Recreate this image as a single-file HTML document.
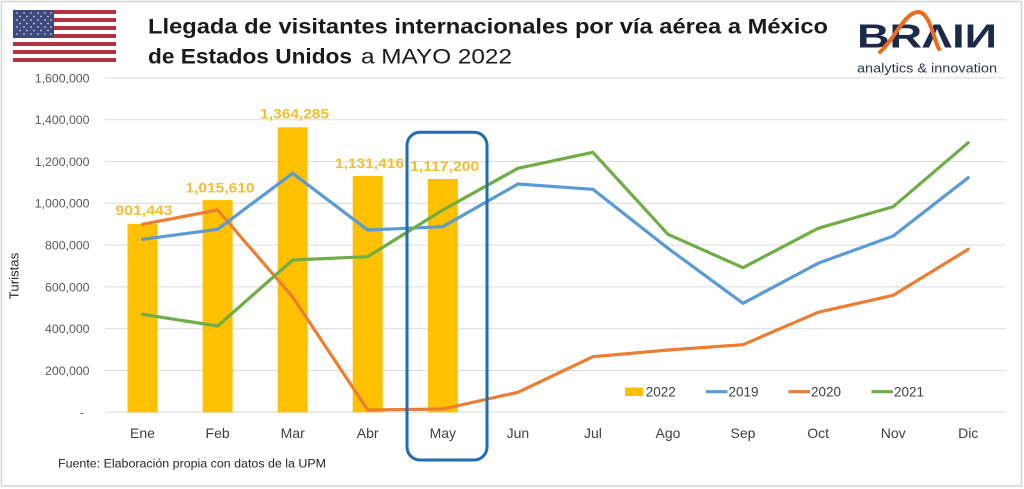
<!DOCTYPE html>
<html>
<head>
<meta charset="utf-8">
<style>
  html,body{margin:0;padding:0;background:#fff;}
  svg{display:block;}
  text{font-family:"Liberation Sans", Arial, sans-serif;}
</style>
</head>
<body>
<svg width="1024" height="489" viewBox="0 0 1024 489" xmlns="http://www.w3.org/2000/svg">
  <rect x="0" y="0" width="1024" height="489" fill="#ffffff"/>
  <!-- outer frame -->
  <rect x="1.5" y="1.5" width="1020" height="484.5" fill="none" stroke="#d6d6d6" stroke-width="1.5"/>

  <!-- flag -->
  <g>
    <rect x="13" y="10" width="103" height="52" fill="#ffffff"/>
    <g fill="#b3323f">
      <rect x="13" y="10" width="103" height="4"/>
      <rect x="13" y="18" width="103" height="4"/>
      <rect x="13" y="26" width="103" height="4"/>
      <rect x="13" y="34" width="103" height="4"/>
      <rect x="13" y="42" width="103" height="4"/>
      <rect x="13" y="50" width="103" height="4"/>
      <rect x="13" y="58" width="103" height="4"/>
    </g>
    <rect x="13" y="10" width="41" height="28" fill="#3d4a7e"/>
    <g fill="#c9cde0">
      <circle cx="17" cy="13" r="0.9"/><circle cx="24" cy="13" r="0.9"/><circle cx="31" cy="13" r="0.9"/><circle cx="38" cy="13" r="0.9"/><circle cx="45" cy="13" r="0.9"/><circle cx="51" cy="13" r="0.9"/>
      <circle cx="20" cy="16.5" r="0.9"/><circle cx="27" cy="16.5" r="0.9"/><circle cx="34" cy="16.5" r="0.9"/><circle cx="41" cy="16.5" r="0.9"/><circle cx="48" cy="16.5" r="0.9"/>
      <circle cx="17" cy="20" r="0.9"/><circle cx="24" cy="20" r="0.9"/><circle cx="31" cy="20" r="0.9"/><circle cx="38" cy="20" r="0.9"/><circle cx="45" cy="20" r="0.9"/><circle cx="51" cy="20" r="0.9"/>
      <circle cx="20" cy="23.5" r="0.9"/><circle cx="27" cy="23.5" r="0.9"/><circle cx="34" cy="23.5" r="0.9"/><circle cx="41" cy="23.5" r="0.9"/><circle cx="48" cy="23.5" r="0.9"/>
      <circle cx="17" cy="27" r="0.9"/><circle cx="24" cy="27" r="0.9"/><circle cx="31" cy="27" r="0.9"/><circle cx="38" cy="27" r="0.9"/><circle cx="45" cy="27" r="0.9"/><circle cx="51" cy="27" r="0.9"/>
      <circle cx="20" cy="30.5" r="0.9"/><circle cx="27" cy="30.5" r="0.9"/><circle cx="34" cy="30.5" r="0.9"/><circle cx="41" cy="30.5" r="0.9"/><circle cx="48" cy="30.5" r="0.9"/>
      <circle cx="17" cy="34" r="0.9"/><circle cx="24" cy="34" r="0.9"/><circle cx="31" cy="34" r="0.9"/><circle cx="38" cy="34" r="0.9"/><circle cx="45" cy="34" r="0.9"/><circle cx="51" cy="34" r="0.9"/>
    </g>
  </g>

  <!-- title -->
  <text x="148" y="33.3" font-size="21" font-weight="bold" fill="#1a1a1a" textLength="680" lengthAdjust="spacingAndGlyphs">Llegada de visitantes internacionales por vía aérea a México</text>
  <text x="148" y="63.3" font-size="21" font-weight="bold" fill="#1a1a1a" textLength="204" lengthAdjust="spacingAndGlyphs">de Estados Unidos</text>
  <text x="361" y="63.3" font-size="21" fill="#1a1a1a" textLength="151" lengthAdjust="spacingAndGlyphs">a MAYO 2022</text>

  <!-- logo -->
  <g>
    <text x="857" y="47.3" font-size="33" font-weight="bold" fill="#1c2a48" textLength="140" lengthAdjust="spacingAndGlyphs">BRΛIИ</text>
    <path d="M880,52 C894,40 905,12 918,12 C930,12 933,38 939,49" fill="none" stroke="#f06a1e" stroke-width="4" stroke-linecap="round"/>
    <text x="857" y="72.5" font-size="13" fill="#2b3650" textLength="140" lengthAdjust="spacingAndGlyphs">analytics &amp; innovation</text>
  </g>

  <!-- gridlines -->
  <g stroke="#dcdcdc" stroke-width="1">
    <line x1="105" y1="77.9" x2="1005.7" y2="77.9"/>
    <line x1="105" y1="119.7" x2="1005.7" y2="119.7"/>
    <line x1="105" y1="161.5" x2="1005.7" y2="161.5"/>
    <line x1="105" y1="203.3" x2="1005.7" y2="203.3"/>
    <line x1="105" y1="245.1" x2="1005.7" y2="245.1"/>
    <line x1="105" y1="286.9" x2="1005.7" y2="286.9"/>
    <line x1="105" y1="328.7" x2="1005.7" y2="328.7"/>
    <line x1="105" y1="370.5" x2="1005.7" y2="370.5"/>
    <line x1="105" y1="412.3" x2="1005.7" y2="412.3"/>
  </g>

  <!-- y axis labels -->
  <g font-size="12.3" fill="#595959" text-anchor="end">
    <text x="89.5" y="82.3">1,600,000</text>
    <text x="89.5" y="124.1">1,400,000</text>
    <text x="89.5" y="165.9">1,200,000</text>
    <text x="89.5" y="207.7">1,000,000</text>
    <text x="89.5" y="249.5">800,000</text>
    <text x="89.5" y="291.3">600,000</text>
    <text x="89.5" y="333.1">400,000</text>
    <text x="89.5" y="374.9">200,000</text>
    <text x="84" y="416.7">-</text>
  </g>
  <text x="0" y="0" font-size="13.2" fill="#262626" text-anchor="middle" transform="translate(18.5,276) rotate(-90)">Turistas</text>

  <!-- bars 2022 -->
  <g fill="#ffc000">
    <rect x="127.5" y="224.0" width="30" height="188.3"/>
    <rect x="202.6" y="200.1" width="30" height="212.2"/>
    <rect x="277.7" y="127.3" width="30" height="285.0"/>
    <rect x="352.7" y="176.0" width="30" height="236.3"/>
    <rect x="427.8" y="179.0" width="30" height="233.3"/>
  </g>

  <!-- lines -->
  <g fill="none" stroke-width="3.2" stroke-linejoin="round" stroke-linecap="round">
    <polyline stroke="#ed7d31" points="142.5,224.3 217.6,210 292.7,297 367.7,410 442.8,409 517.9,392.3 592.9,356.7 668,350 743,344.7 818.1,312.3 893.2,295.3 968.2,249.3"/>
    <polyline stroke="#5b9bd5" points="142.5,239.3 217.6,229.3 292.7,173.3 367.7,230 442.8,226.7 517.9,184 592.9,189.3 668,248.3 743,303.3 818.1,263.3 893.2,236 968.2,177.7"/>
    <polyline stroke="#70ad47" points="142.5,314.3 217.6,326 292.7,260 367.7,256.7 442.8,210 517.9,168.3 592.9,152.3 668,234.3 743,267.7 818.1,228.3 893.2,206.7 968.2,142.7"/>
  </g>

  <!-- highlight box -->
  <rect x="407" y="132.3" width="80" height="327.7" rx="13" ry="13" fill="none" stroke="#1f6db3" stroke-width="3"/>

  <!-- data labels -->
  <g font-size="14" font-weight="bold" fill="#f0bf34" text-anchor="middle">
    <text x="144" y="215" textLength="57" lengthAdjust="spacingAndGlyphs">901,443</text>
    <text x="220" y="192.5" textLength="69" lengthAdjust="spacingAndGlyphs">1,015,610</text>
    <text x="294.7" y="118.5" textLength="69" lengthAdjust="spacingAndGlyphs">1,364,285</text>
    <text x="369.5" y="168" textLength="69" lengthAdjust="spacingAndGlyphs">1,131,416</text>
    <text x="444.7" y="171" textLength="69" lengthAdjust="spacingAndGlyphs">1,117,200</text>
  </g>

  <!-- x axis labels -->
  <g font-size="14" fill="#404040" text-anchor="middle">
    <text x="142.5" y="438">Ene</text>
    <text x="217.6" y="438">Feb</text>
    <text x="292.7" y="438">Mar</text>
    <text x="367.7" y="438">Abr</text>
    <text x="442.8" y="438">May</text>
    <text x="517.9" y="438">Jun</text>
    <text x="592.9" y="438">Jul</text>
    <text x="668" y="438">Ago</text>
    <text x="743" y="438">Sep</text>
    <text x="818.1" y="438">Oct</text>
    <text x="893.2" y="438">Nov</text>
    <text x="968.2" y="438">Dic</text>
  </g>

  <!-- legend -->
  <g font-size="13.5" fill="#404040">
    <rect x="625" y="387.5" width="18" height="8.5" fill="#ffc000"/>
    <text x="645.7" y="396.5">2022</text>
    <line x1="706" y1="391.7" x2="727.5" y2="391.7" stroke="#5b9bd5" stroke-width="3.2"/>
    <text x="728.5" y="396.5">2019</text>
    <line x1="788.5" y1="391.7" x2="810" y2="391.7" stroke="#ed7d31" stroke-width="3.2"/>
    <text x="811" y="396.5">2020</text>
    <line x1="871.5" y1="391.7" x2="893" y2="391.7" stroke="#70ad47" stroke-width="3.2"/>
    <text x="894" y="396.5">2021</text>
  </g>

  <!-- source -->
  <text x="58" y="467.5" font-size="12.3" fill="#262626" textLength="268" lengthAdjust="spacingAndGlyphs">Fuente: Elaboración propia con datos de la UPM</text>
</svg>
</body>
</html>
